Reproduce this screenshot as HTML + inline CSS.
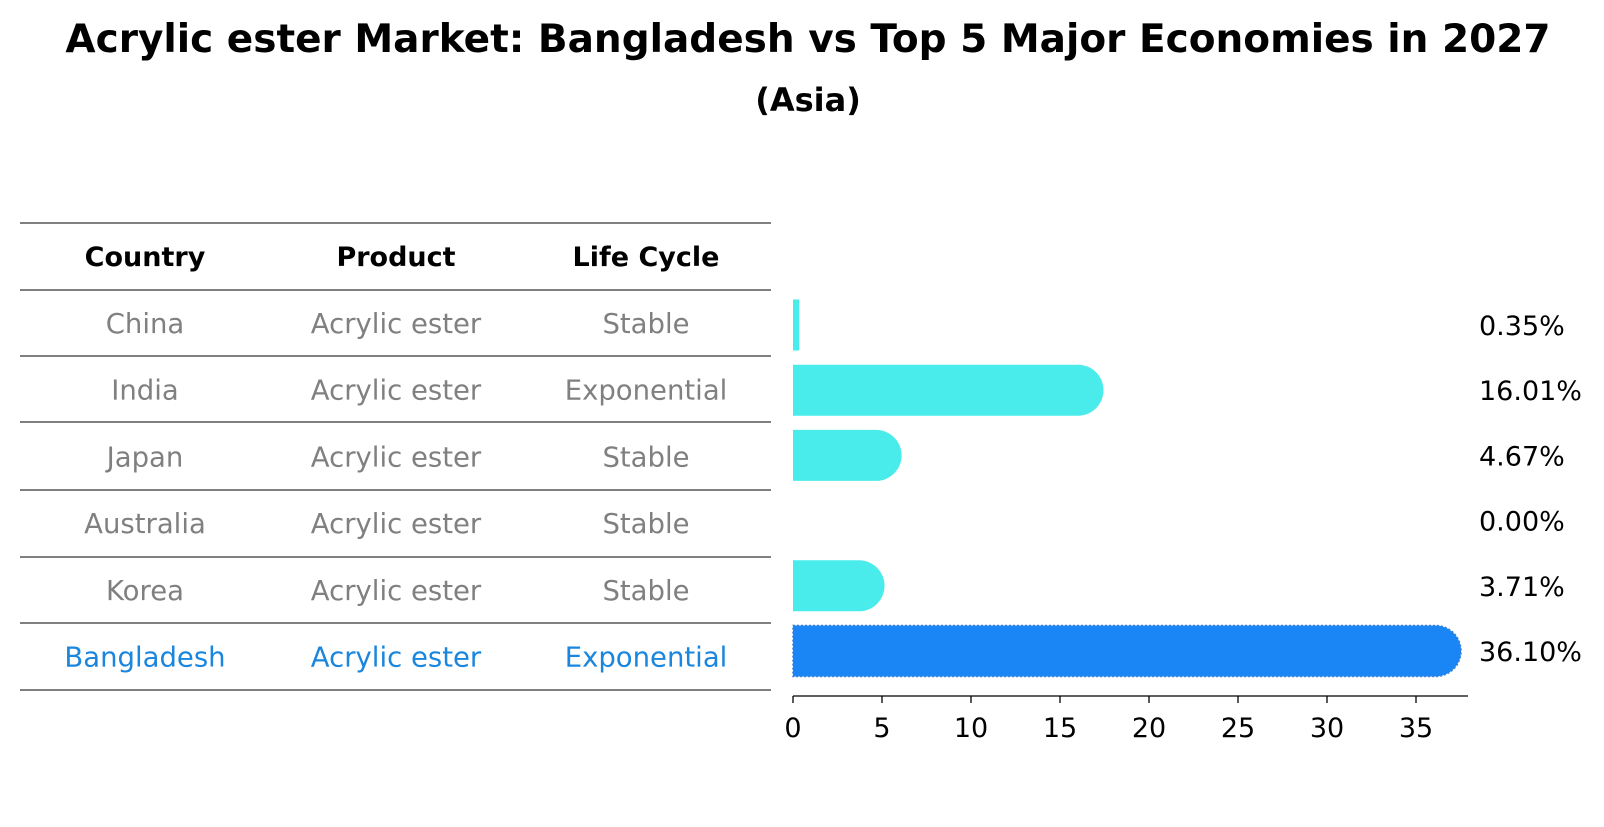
<!DOCTYPE html>
<html><head><meta charset="utf-8">
<style>
body{margin:0;background:#fff;width:1604px;height:823px;overflow:hidden;font-family:"DejaVu Sans","Liberation Sans",sans-serif;}
svg text{font-family:"DejaVu Sans","Liberation Sans",sans-serif;}
</style></head>
<body>
<svg id="chart" width="1604" height="823" xmlns="http://www.w3.org/2000/svg">
<text x="808" y="52" text-anchor="middle" font-size="39" font-weight="bold">Acrylic ester Market: Bangladesh vs Top 5 Major Economies in 2027</text>
<text x="808" y="111" text-anchor="middle" font-size="32" font-weight="bold">(Asia)</text>
<g id="table"></g>
<g id="bars"></g>
</svg>
<script>
const countries=["China","India","Japan","Australia","Korea","Bangladesh"];
const products=["Acrylic ester","Acrylic ester","Acrylic ester","Acrylic ester","Acrylic ester","Acrylic ester"];
const lifeCycles=["Stable","Exponential","Stable","Stable","Stable","Exponential"];
const shares=[0.35,16.01,4.67,0.00,3.71,36.10];
const shareLabels=["0.35%","16.01%","4.67%","0.00%","3.71%","36.10%"];
const ticks=[0,5,10,15,20,25,30,35];

const NS="http://www.w3.org/2000/svg";
function mk(tag,attrs,parent){const e=document.createElementNS(NS,tag);for(const k in attrs)e.setAttribute(k,attrs[k]);parent.appendChild(e);return e;}
const x0=793,pxPer=17.8;
function xs(v){return x0+v*pxPer;}
function yc(i){return 325+i*65.2;}

const table=document.getElementById('table');
const lineYs=[223,290,356,422,490,557,623,690];
lineYs.forEach(y=>{const l=mk('line',{x1:20,x2:771,y1:y,y2:y,stroke:'#000','stroke-width':1},table);

});
const colX=[145,396,646];
["Country","Product","Life Cycle"].forEach((h,j)=>{const t=mk('text',{x:colX[j],y:266,'text-anchor':'middle','font-size':27,'font-weight':'bold'},table);t.textContent=h;

});
countries.forEach((c,i)=>{const color=i===5?'#1a86dd':'#808080';
[c,products[i],lifeCycles[i]].forEach((v,j)=>{const t=mk('text',{x:colX[j],y:333+i*66.7,'text-anchor':'middle','font-size':27.5,fill:color},table);t.textContent=v;

});});

const bars=document.getElementById('bars');
const h=51,r=25.5;
shares.forEach((v,i)=>{
  const color=i===5?'#1a86f5':'#4aeceb';
  const cy=yc(i),w=xs(v)-x0;
  if(w<=0)return;
  let d;
  if(w>r){d=`M${x0},${cy-h/2} H${xs(v)} A${r},${r} 0 0 1 ${xs(v)},${cy+h/2} H${x0} Z`;}
  else{d=`M${x0},${cy-h/2} H${xs(v)} V${cy+h/2} H${x0} Z`;}
  const p=mk('path',{d:d,fill:color},bars);
  if(i===5){p.setAttribute('stroke','#3a7fd8');p.setAttribute('stroke-dasharray','2,2');p.setAttribute('stroke-width','1.5');}
  
  
});
shareLabels.forEach((s,i)=>{const t=mk('text',{x:1479,y:yc(i)+10,'font-size':27},bars);t.textContent=s;

});
const ax=mk('line',{x1:x0,x2:1468,y1:696,y2:696,stroke:'#000','stroke-width':1.3},bars);


ticks.forEach(tv=>{const l=mk('line',{x1:xs(tv),x2:xs(tv),y1:696,y2:703,stroke:'#000','stroke-width':1.3},bars);


const t=mk('text',{x:xs(tv),y:737,'text-anchor':'middle','font-size':27},bars);t.textContent=tv;

});
</script>
</body></html>
